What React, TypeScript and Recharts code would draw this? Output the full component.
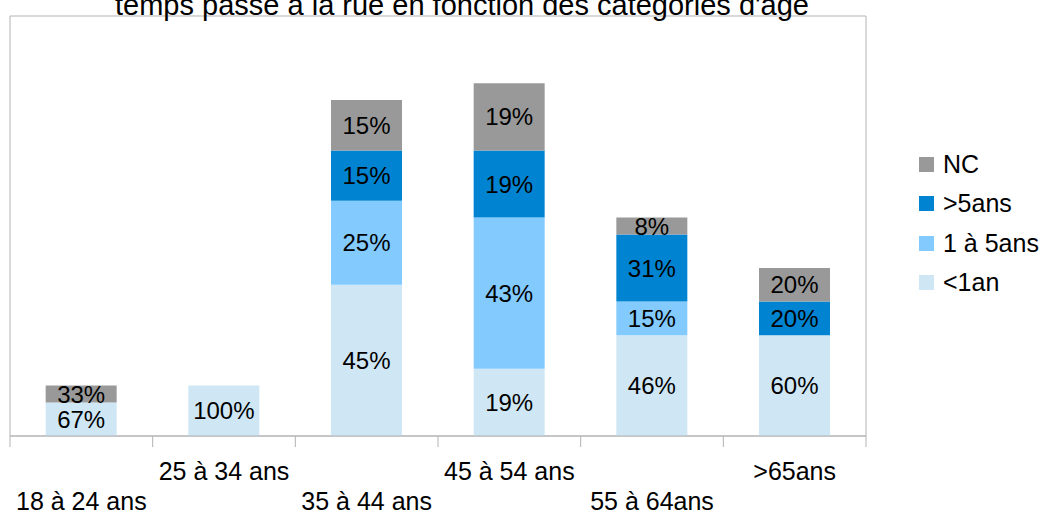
import React from 'react';
import { BarChart, Bar, XAxis, YAxis, CartesianGrid, LabelList } from 'recharts';

const categories = ['18 à 24 ans', '25 à 34 ans', '35 à 44 ans', '45 à 54 ans', '55 à 64ans', '>65ans'];
const lessThan1 = [2, 3, 9, 4, 6, 6];
const oneToFive = [0, 0, 5, 9, 2, 0];
const moreThan5 = [0, 0, 3, 4, 4, 2];
const noAnswer = [1, 0, 3, 4, 1, 2];
const yTicks = [0, 5, 10, 15, 20, 25];

const series = [
  { key: 'lt1', name: '<1an', values: lessThan1, color: '#cfe7f5' },
  { key: 'one5', name: '1 à 5ans', values: oneToFive, color: '#83caff' },
  { key: 'gt5', name: '>5ans', values: moreThan5, color: '#0084d1' },
  { key: 'nc', name: 'NC', values: noAnswer, color: '#999999' },
];

const totals = categories.map((_, i) => series.reduce((s, ser) => s + ser.values[i], 0));

const data = categories.map((cat, i) => {
  const row: any = { cat };
  series.forEach((ser) => {
    row[ser.key] = ser.values[i];
    row[ser.key + '_pct'] = Math.round((ser.values[i] / totals[i]) * 100) + '%';
  });
  return row;
});

const FONT = '"Liberation Sans", Arial, sans-serif';
const GRID = '#b3b3b3';

const Tick = (props: any) => {
  const { x, y, payload, index, visibleTicksCount } = props;
  const off = payload && payload.offset ? payload.offset : 71.33;
  const isLast = index === (visibleTicksCount ?? categories.length) - 1;
  const dy = index % 2 === 0 ? 74 : 44;
  return (
    <g>
      <line x1={x - off} y1={y} x2={x - off} y2={y + 11} stroke={GRID} strokeWidth={1} />
      {isLast && <line x1={x + off} y1={y} x2={x + off} y2={y + 11} stroke={GRID} strokeWidth={1} />}
      <text x={x} y={y + dy} textAnchor="middle" fontFamily={FONT} fontSize={25} fill="#000">
        {payload.value}
      </text>
    </g>
  );
};

const makeLabel = () => (props: any) => {
  const { x, y, width, height, value } = props;
  if (!height || height <= 0.5) return null;
  return (
    <text
      x={x + width / 2}
      y={y + height / 2}
      textAnchor="middle"
      dominantBaseline="central"
      fontFamily={FONT}
      fontSize={24}
      fill="#000"
    >
      {value}
    </text>
  );
};

export default function App() {
  const legendItems = [...series].reverse();
  return (
    <div style={{ position: 'absolute', left: 0, top: 0, width: 1045, height: 516, background: '#fff', fontFamily: FONT }}>
      <BarChart
        width={1045}
        height={516}
        data={data}
        margin={{ top: 16, right: 179, left: 10, bottom: 0 }}
        barCategoryGap="25%"
      >
        <CartesianGrid
          stroke={GRID}
          verticalCoordinatesGenerator={(p: any) => [p.offset.left, p.offset.left + p.offset.width]}
        />
        <XAxis
          dataKey="cat"
          height={80}
          interval={0}
          axisLine={{ stroke: GRID }}
          tickLine={false}
          tickSize={0}
          tickMargin={0}
          tick={<Tick />}
        />
        <YAxis
          width={0}
          domain={[0, 25]}
          ticks={yTicks}
          tick={false}
          tickLine={false}
          axisLine={{ stroke: GRID }}
        />
        {series.map((ser) => (
          <Bar key={ser.key} dataKey={ser.key} stackId="a" fill={ser.color} isAnimationActive={false}>
            <LabelList dataKey={ser.key + '_pct'} content={makeLabel()} />
          </Bar>
        ))}
      </BarChart>
      <svg style={{ position: 'absolute', left: 0, top: 0 }} width={1045} height={40}>
        <text x={462} y={15} textAnchor="middle" fontFamily={FONT} fontSize={29} fill="#000">
          temps passé à la rue en fonction des catégories d'âge
        </text>
      </svg>
      <div style={{ position: 'absolute', left: 919, top: 145 }}>
        {legendItems.map((ser) => (
          <div key={ser.key} style={{ display: 'flex', alignItems: 'center', height: 39.3 }}>
            <div style={{ width: 15, height: 15, background: ser.color, marginRight: 9 }} />
            <span style={{ fontSize: 25, lineHeight: '25px', color: '#000' }}>{ser.name}</span>
          </div>
        ))}
      </div>
    </div>
  );
}
